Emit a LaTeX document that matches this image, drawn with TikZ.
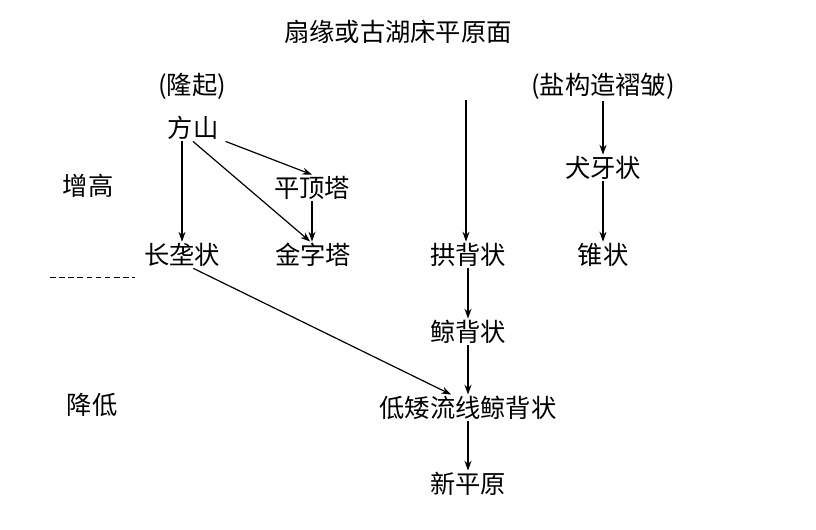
\documentclass[tikz,border=0pt]{standalone}
\usepackage{fontspec}
\setmainfont{Noto Sans CJK SC}
\usepackage{tikz}
\usetikzlibrary{arrows.meta}

\begin{document}
\begin{tikzpicture}[x=0.025cm,y=-0.025cm]
				\tikzstyle{TXT} = [inner sep=1pt, font=\fontsize{18}{20}\selectfont]
				\tikzstyle{arr} = [-{Stealth[length=7pt,width=5pt]}, line width=0.85pt]
				
				\useasboundingbox (0,0) rectangle (816,530);
				
				\node [TXT] (top) at (398,32) {扇缘或古湖床平原面};
				\node [TXT] (lq)  at (192,86) {(隆起)};
				\node [TXT] (fs)  at (193,128) {方山};
				\node [TXT] (pd)  at (312,188) {平顶塔};
				\node [TXT] (jz)  at (313,255) {金字塔};
				\node [TXT] (cl)  at (182,255) {长垄状};
				\node [TXT] (zg)  at (88,186) {增高};
				\node [TXT] (jd)  at (92,405) {降低};
				\node [TXT] (gb)  at (468,255) {拱背状};
				\node [TXT] (yg)  at (603,86) {(盐构造褶皱)};
				\node [TXT] (qy)  at (603,168) {犬牙状};
				\node [TXT] (zz)  at (603,255) {锥状};
				\node [TXT] (jb)  at (468,332) {鲸背状};
				\node [TXT] (da)  at (468,408) {低矮流线鲸背状};
				\node [TXT] (xp)  at (468,484) {新平原};
				
				\coordinate (src) at (466,100);
				\draw [dash pattern=on 4pt off 2.5pt, line width=0.7pt] (50,277) -- (135,277);
				
				\draw [arr] (src) -- (gb.north -| src);
				\draw [arr] (fs.south -| cl.north) -- (cl.north);
				\draw [arr] ([xshift=4pt]fs.south east) -- (pd.north);
				\draw [arr] (fs.south) -- ([xshift=-2pt]jz.north);
				\draw [arr] (pd.south) -- (pd.south |- jz.north);
				\draw [arr] ([xshift=8pt]cl.south) -- ([xshift=-12pt]da.north);
				\draw [arr] (gb) -- (jb);
				\draw [arr] (jb) -- (da);
				\draw [arr] (da) -- (xp);
				\draw [arr] (yg) -- (qy);
				\draw [arr] (qy) -- (zz);
				
			\end{tikzpicture}
\end{document}
